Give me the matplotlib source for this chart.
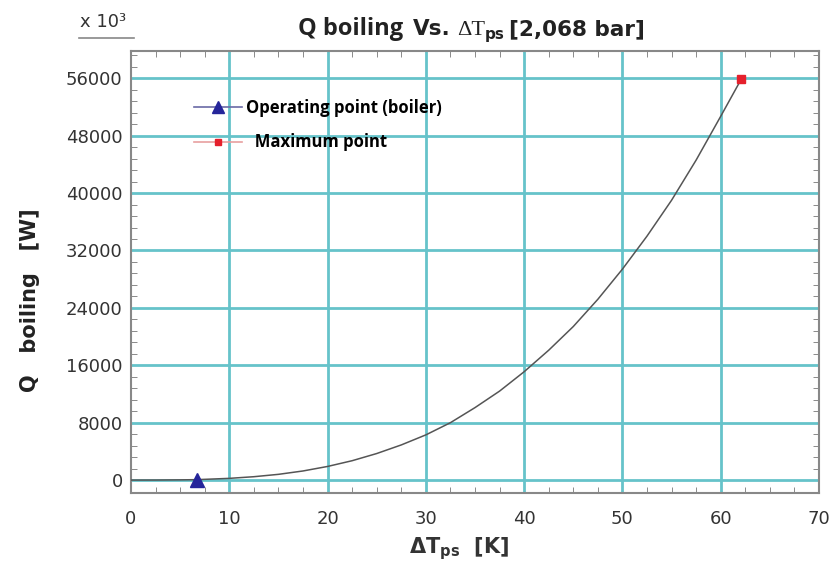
import matplotlib
matplotlib.use("Agg")
import matplotlib.pyplot as plt
from matplotlib.lines import Line2D
from matplotlib.ticker import MultipleLocator

plt.rcParams['mathtext.fontset'] = 'custom'
plt.rcParams['mathtext.rm'] = 'DejaVu Sans:bold'
plt.rcParams['mathtext.bf'] = 'DejaVu Sans:bold'
plt.rcParams['mathtext.it'] = 'DejaVu Sans:bold'
plt.rcParams.update({
    'xtick.direction': 'in', 'ytick.direction': 'in',
    'xtick.major.size': 0, 'ytick.major.size': 0,
    'xtick.minor.size': 4, 'ytick.minor.size': 4,
    'xtick.major.pad': 12, 'ytick.major.pad': 6,
    'xtick.labelsize': 13, 'ytick.labelsize': 13,
    'xtick.labelcolor': '#333333', 'ytick.labelcolor': '#333333',
    'xtick.color': '#777777', 'ytick.color': '#777777',
    'xtick.top': True, 'ytick.right': True,
    'font.family': 'DejaVu Sans',
})

# Data
dT = [0, 2.5, 5, 6.7, 10, 12.5, 15, 17.5, 20, 22.5, 25, 27.5, 30, 32.5, 35, 37.5,
      40, 42.5, 45, 47.5, 50, 52.5, 55, 57.5, 60, 62.1]
Q = [0, 5, 30, 60, 240, 470, 800, 1270, 1900, 2700, 3700, 4900, 6300, 8000,
     10100, 12400, 15100, 18100, 21400, 25200, 29400, 34000, 39000, 44600, 50700, 55900]
op_x, op_y = [6.7], [0]
max_x, max_y = [62.1], [55900]
labels = ["Operating point (boiler)", "  Maximum point"]
xticks = [0, 10, 20, 30, 40, 50, 60, 70]
yticks = [0, 8000, 16000, 24000, 32000, 40000, 48000, 56000]

W, H = 831, 567
fig = plt.figure(figsize=(W / 100, H / 100), dpi=100)
ax = fig.add_axes([131 / W, 1 - 493 / H, (819 - 131) / W, (493 - 51) / H])

grid_c = '#66c3ca'
for x in xticks[1:-1]:
    ax.axvline(x, color=grid_c, lw=2.0, zorder=1)
for y in yticks:
    ax.axhline(y, color=grid_c, lw=2.0, zorder=1)

ax.plot(dT, Q, color='#555555', lw=1.1, zorder=3)
ax.plot(op_x, op_y, ls='none', marker='^', ms=10, color='#25259a', zorder=4)
ax.plot(max_x, max_y, ls='none', marker='s', ms=6, color='#e5202c', zorder=4)

ax.set_xlim(0, 70)
ax.set_ylim(-1800, 59800)
ax.set_xticks(xticks)
ax.set_yticks(yticks)
ax.xaxis.set_minor_locator(MultipleLocator(2.5))
ax.yaxis.set_minor_locator(MultipleLocator(1600))
for s in ax.spines.values():
    s.set_color('#888888')
    s.set_linewidth(1.5)

ax.set_xlabel(r'ΔT$_{ps}$  [K]', fontsize=15, fontweight='bold', family='DejaVu Sans',
              color='#333333')
ax.xaxis.set_label_coords((459 - 131) / 688, -(549 - 493) / 442)
ax.xaxis.label.set_va('center')
ax.set_ylabel('Q   boiling   [W]', fontsize=15, fontweight='bold', family='DejaVu Sans',
              color='#222222')
ax.yaxis.set_label_coords((30 - 131) / 688, (493 - 300) / 442)
ax.yaxis.label.set_va('center')

# Title built from pieces (mixed fonts as in the reference)
renderer = fig.canvas.get_renderer()
x_px = 298
ty = 1 - 35 / H
pieces = [('Q boiling', dict(family='Open Sans', fontweight='bold', fontsize=17), 10, 0),
          ('Vs.', dict(family='DejaVu Sans', fontweight='bold', fontsize=15.5), 6, 0),
          ('ΔT', dict(family='Liberation Serif', fontsize=16), 0, 0),
          ('ps', dict(family='DejaVu Sans', fontweight='bold', fontsize=11), 4, -4),
          ('[2,068 bar]', dict(family='DejaVu Sans', fontweight='bold', fontsize=15.5), 0, 0)]
for txt, kw, gap, dy in pieces:
    t = fig.text(x_px / W, ty + dy / H, txt, color='#222222', va='baseline', **kw)
    bb = t.get_window_extent(renderer)
    x_px += bb.width + gap

fig.text(80 / W, 1 - 22 / H, 'x 10³', fontsize=13, family='DejaVu Sans', color='#333333',
         va='center')
fig.add_artist(Line2D([79 / W, 134 / W], [1 - 38 / H, 1 - 38 / H], color='#888888', lw=1.2))

handles = [Line2D([], [], color='#6a6aa5', lw=1.2, marker='^', ms=9,
                  markerfacecolor='#25259a', markeredgecolor='#25259a'),
           Line2D([], [], color='#e8a0a0', lw=1.2, marker='s', ms=5,
                  markerfacecolor='#e5202c', markeredgecolor='#e5202c')]
ax.legend(handles, labels, loc='upper left', bbox_to_anchor=(0.07, 0.926), frameon=False,
          prop={'family': 'Open Sans', 'weight': 'bold', 'size': 12},
          handlelength=2.9, handletextpad=0.2, labelspacing=1.0)

fig.savefig('out.png', dpi=100)
